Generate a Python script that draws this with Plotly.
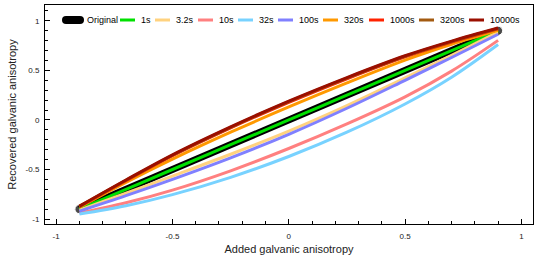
import plotly.graph_objects as go

# ---- data ----
x_added = [-0.9, -0.7, -0.5, -0.25, 0.0, 0.25, 0.5, 0.7, 0.9]
series_names = ["Original", "1s", "3.2s", "10s", "32s", "100s", "320s", "1000s", "3200s", "10000s"]
original = [-0.9, -0.7, -0.5, -0.25, 0.0, 0.25, 0.5, 0.7, 0.9]
rec_1s = [-0.9, -0.7, -0.5, -0.25, 0.0, 0.25, 0.5, 0.7, 0.9]
rec_3_2s = [-0.91, -0.74, -0.566, -0.346, -0.113, 0.145, 0.425, 0.653, 0.887]
rec_10s = [-0.94, -0.836, -0.708, -0.513, -0.288, -0.04, 0.233, 0.493, 0.803]
rec_32s = [-0.95, -0.866, -0.754, -0.579, -0.369, -0.124, 0.161, 0.431, 0.761]
rec_100s = [-0.92, -0.764, -0.60, -0.383, -0.145, 0.118, 0.40, 0.63, 0.865]
rec_320s = [-0.88, -0.63, -0.396, -0.124, 0.131, 0.374, 0.604, 0.764, 0.904]
rec_1000s = [-0.875, -0.613, -0.361, -0.08, 0.178, 0.416, 0.637, 0.786, 0.92]
rec_3200s = [-0.872, -0.609, -0.356, -0.074, 0.185, 0.423, 0.643, 0.791, 0.923]
rec_10000s = [-0.87, -0.606, -0.352, -0.07, 0.19, 0.428, 0.648, 0.796, 0.928]
x_ticks = [-1, -0.5, 0, 0.5, 1]
y_ticks = [-1, -0.5, 0, 0.5, 1]

colors = ["#000000", "#00e000", "#ffd27f", "#ff8080", "#78d2ff", "#8080ff",
          "#ff9900", "#ff2200", "#a35a10", "#9a0f00"]
values = [original, rec_1s, rec_3_2s, rec_10s, rec_32s, rec_100s,
          rec_320s, rec_1000s, rec_3200s, rec_10000s]

# plot area in pixels
W, H = 540, 257
L, R, T, B = 45, 7, 5, 33
PW, PH = W - L - R, H - T - B

fig = go.Figure()
for i, (name, vals, col) in enumerate(zip(series_names, values, colors)):
    if i == 0:
        sizes = [0] * len(vals)
        sizes[0] = sizes[-1] = 9
        fig.add_trace(go.Scatter(x=x_added, y=vals, mode="lines+markers", name=name,
                                 line=dict(color=col, width=7),
                                 marker=dict(color=col, size=sizes),
                                 showlegend=False, hoverinfo="skip"))
    else:
        fig.add_trace(go.Scatter(x=x_added, y=vals, mode="lines", name=name,
                                 line=dict(color=col, width=3, shape="spline", smoothing=1.0),
                                 showlegend=False))

# manual compact legend (matches reference layout)
def px_to_paper_x(px):
    return (px - L) / PW

def px_to_paper_y(py):
    return (H - B - py) / PH

legend_y = 20
sym_starts = [63, 120, 155, 198, 238, 278, 323, 369, 419, 469]
shapes = []
annotations = []
for i, (name, col, sx) in enumerate(zip(series_names, colors, sym_starts)):
    if i == 0:
        x0, x1 = sx + 3, sx + 17
        shapes.append(dict(type="line", xref="paper", yref="paper",
                           x0=px_to_paper_x(x0), x1=px_to_paper_x(x1),
                           y0=px_to_paper_y(legend_y), y1=px_to_paper_y(legend_y),
                           line=dict(color=col, width=8)))
        for cx in (x0, x1):
            shapes.append(dict(type="circle", xref="paper", yref="paper",
                               x0=px_to_paper_x(cx - 4), x1=px_to_paper_x(cx + 4),
                               y0=px_to_paper_y(legend_y + 4), y1=px_to_paper_y(legend_y - 4),
                               fillcolor=col, line=dict(width=0)))
        tx = sx + 22
    else:
        shapes.append(dict(type="line", xref="paper", yref="paper",
                           x0=px_to_paper_x(sx), x1=px_to_paper_x(sx + 15),
                           y0=px_to_paper_y(legend_y), y1=px_to_paper_y(legend_y),
                           line=dict(color=col, width=3)))
        tx = sx + 19
    annotations.append(dict(x=px_to_paper_x(tx), y=px_to_paper_y(legend_y),
                            xref="paper", yref="paper", text=name, showarrow=False,
                            xanchor="left", yanchor="middle",
                            font=dict(size=9, color="#000000", family="Liberation Sans, Arial, sans-serif")))

axis_common = dict(
    showline=True, mirror=True, linecolor="#000000", linewidth=1,
    ticks="inside", ticklen=5, tickwidth=1, tickcolor="#000000",
    showgrid=False, zeroline=False, automargin=False,
    tickfont=dict(size=8, color="#222222", family="Liberation Sans, Arial, sans-serif"),
    minor=dict(ticks="inside", ticklen=3, tickwidth=1, tickcolor="#000000", dtick=0.1, showgrid=False),
)

fig.update_layout(
    width=W, height=H,
    margin=dict(l=L, r=R, t=T, b=B, pad=0, autoexpand=False),
    paper_bgcolor="white", plot_bgcolor="white",
    showlegend=False, hovermode=False,
    shapes=shapes, annotations=annotations,
    xaxis=dict(range=[-1.048, 1.05], tickvals=x_ticks, ticktext=[str(v) for v in x_ticks],
               title=dict(text="Added galvanic anisotropy", standoff=5,
                          font=dict(size=11, color="#222222", family="Liberation Sans, Arial, sans-serif")),
               ticklabelstandoff=4,
               **axis_common),
    yaxis=dict(range=[-1.05, 1.16], tickvals=y_ticks, ticktext=[str(v) for v in y_ticks],
               title=dict(text="Recovered galvanic anisotropy", standoff=6,
                          font=dict(size=11, color="#222222", family="Liberation Sans, Arial, sans-serif")),
               ticklabelstandoff=3,
               **axis_common),
)

fig.write_html("out.html", config={"displayModeBar": False},
               post_script="document.body.style.margin='0';document.body.style.overflow='hidden';")
